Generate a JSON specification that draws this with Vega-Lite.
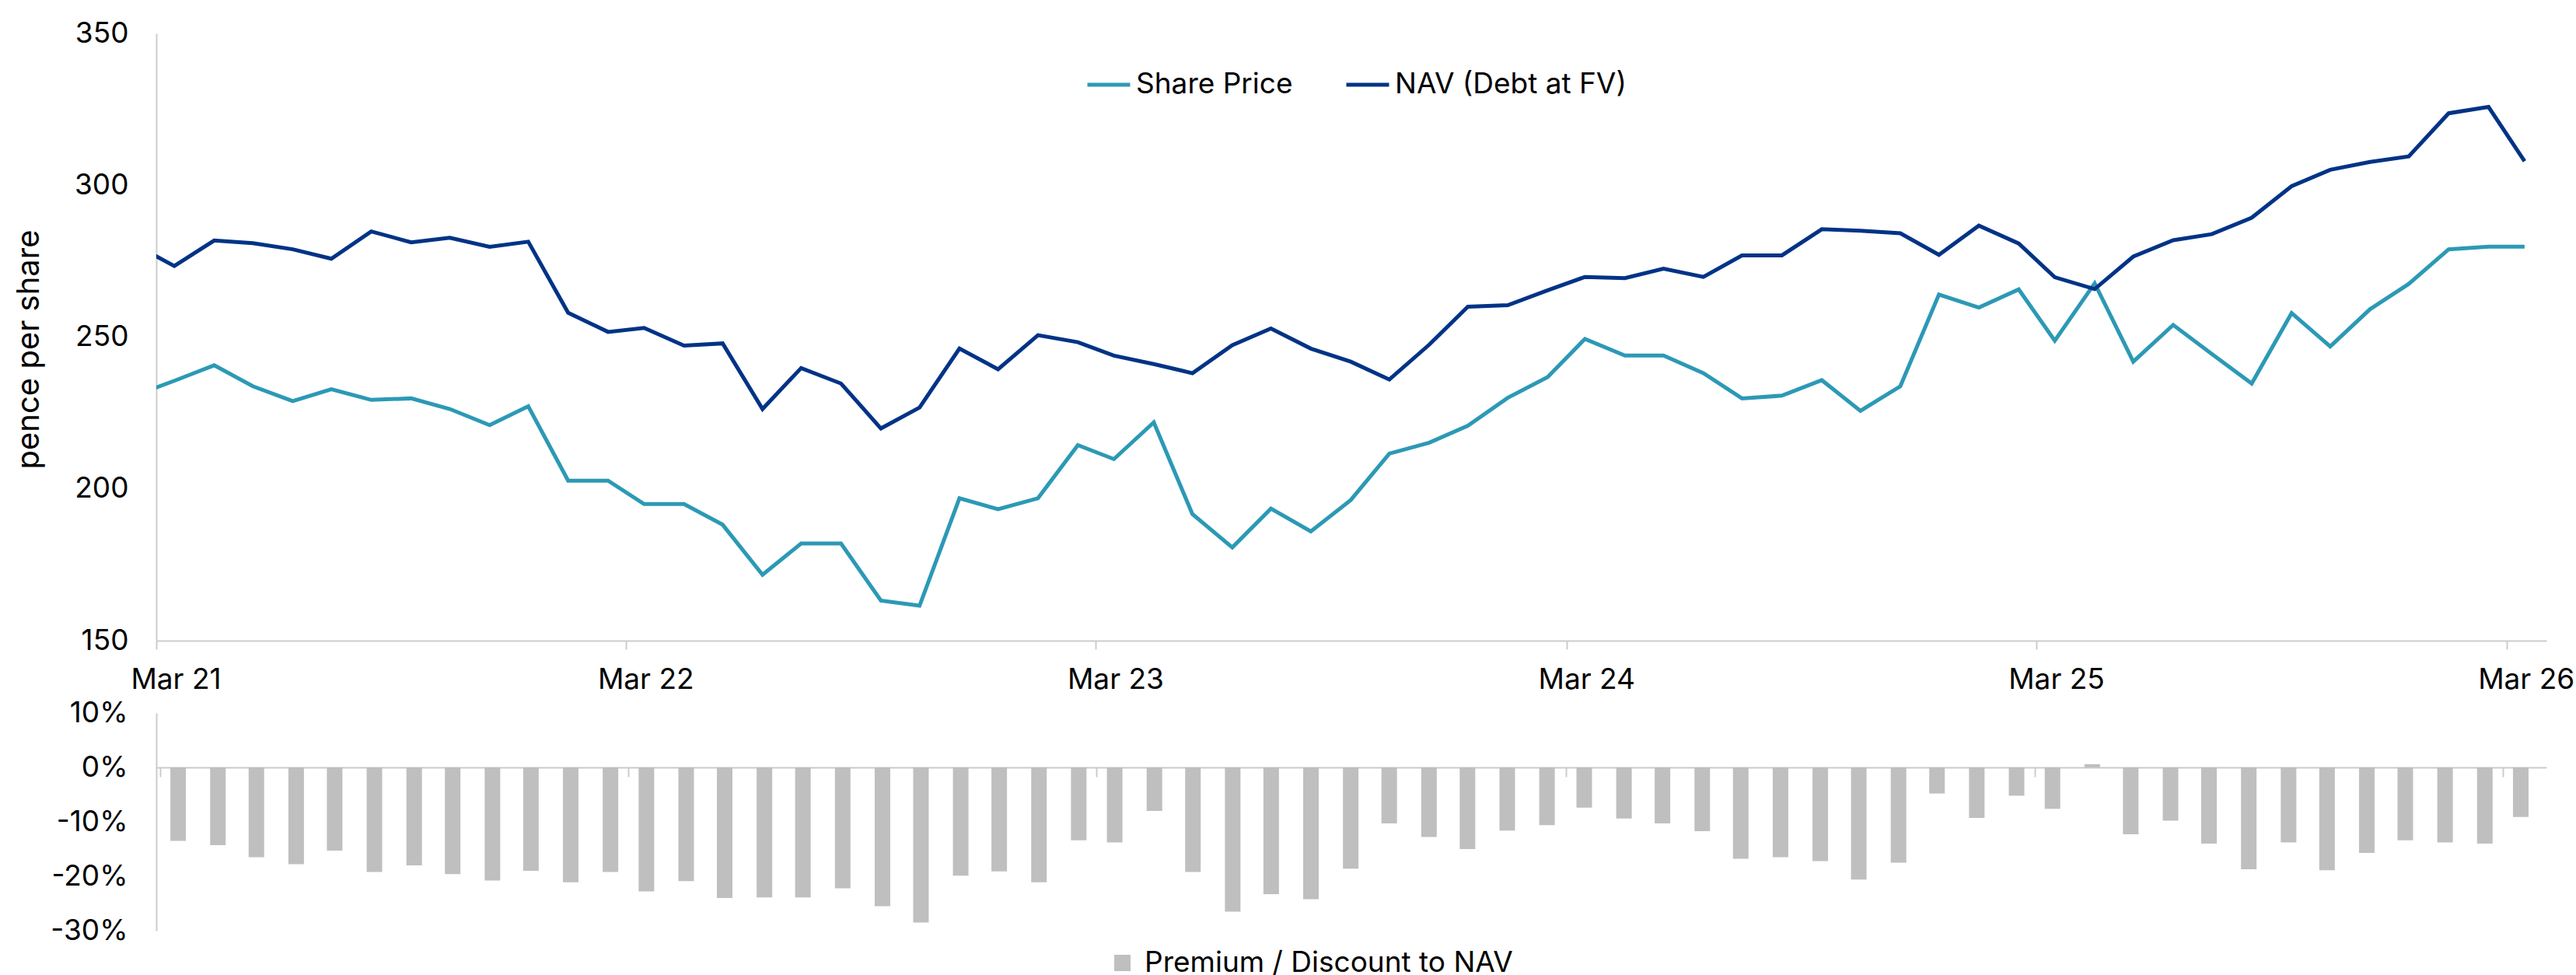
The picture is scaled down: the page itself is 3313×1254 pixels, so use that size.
{
  "$schema": "https://vega.github.io/schema/vega-lite/v6.json",
  "background": "white",
  "padding": {"left": 17, "top": 24, "right": 5, "bottom": 5},
  "spacing": 6,
  "datasets": {
    "lines": [
      {"date": "2021-02-15T00:00:00", "series": "Share Price", "value": 231.2},
      {"date": "2021-03-15T00:00:00", "series": "Share Price", "value": 235.6},
      {"date": "2021-04-15T00:00:00", "series": "Share Price", "value": 240.7},
      {"date": "2021-05-15T00:00:00", "series": "Share Price", "value": 233.8},
      {"date": "2021-06-15T00:00:00", "series": "Share Price", "value": 228.9},
      {"date": "2021-07-15T00:00:00", "series": "Share Price", "value": 232.8},
      {"date": "2021-08-15T00:00:00", "series": "Share Price", "value": 229.3},
      {"date": "2021-09-15T00:00:00", "series": "Share Price", "value": 229.8},
      {"date": "2021-10-15T00:00:00", "series": "Share Price", "value": 226.3},
      {"date": "2021-11-15T00:00:00", "series": "Share Price", "value": 221.0},
      {"date": "2021-12-15T00:00:00", "series": "Share Price", "value": 227.2},
      {"date": "2022-01-15T00:00:00", "series": "Share Price", "value": 202.7},
      {"date": "2022-02-15T00:00:00", "series": "Share Price", "value": 202.7},
      {"date": "2022-03-15T00:00:00", "series": "Share Price", "value": 195.0},
      {"date": "2022-04-15T00:00:00", "series": "Share Price", "value": 195.0},
      {"date": "2022-05-15T00:00:00", "series": "Share Price", "value": 188.2},
      {"date": "2022-06-15T00:00:00", "series": "Share Price", "value": 171.7},
      {"date": "2022-07-15T00:00:00", "series": "Share Price", "value": 182.0},
      {"date": "2022-08-15T00:00:00", "series": "Share Price", "value": 182.0},
      {"date": "2022-09-15T00:00:00", "series": "Share Price", "value": 163.2},
      {"date": "2022-10-15T00:00:00", "series": "Share Price", "value": 161.5},
      {"date": "2022-11-15T00:00:00", "series": "Share Price", "value": 196.9},
      {"date": "2022-12-15T00:00:00", "series": "Share Price", "value": 193.3},
      {"date": "2023-01-15T00:00:00", "series": "Share Price", "value": 196.9},
      {"date": "2023-02-15T00:00:00", "series": "Share Price", "value": 214.4},
      {"date": "2023-03-15T00:00:00", "series": "Share Price", "value": 209.8},
      {"date": "2023-04-15T00:00:00", "series": "Share Price", "value": 221.9},
      {"date": "2023-05-15T00:00:00", "series": "Share Price", "value": 191.7},
      {"date": "2023-06-15T00:00:00", "series": "Share Price", "value": 180.7},
      {"date": "2023-07-15T00:00:00", "series": "Share Price", "value": 193.5},
      {"date": "2023-08-15T00:00:00", "series": "Share Price", "value": 186.0},
      {"date": "2023-09-15T00:00:00", "series": "Share Price", "value": 196.3},
      {"date": "2023-10-15T00:00:00", "series": "Share Price", "value": 211.6},
      {"date": "2023-11-15T00:00:00", "series": "Share Price", "value": 215.2},
      {"date": "2023-12-15T00:00:00", "series": "Share Price", "value": 220.8},
      {"date": "2024-01-15T00:00:00", "series": "Share Price", "value": 230.0},
      {"date": "2024-02-15T00:00:00", "series": "Share Price", "value": 236.8},
      {"date": "2024-03-15T00:00:00", "series": "Share Price", "value": 249.4},
      {"date": "2024-04-15T00:00:00", "series": "Share Price", "value": 243.9},
      {"date": "2024-05-15T00:00:00", "series": "Share Price", "value": 243.9},
      {"date": "2024-06-15T00:00:00", "series": "Share Price", "value": 238.1},
      {"date": "2024-07-15T00:00:00", "series": "Share Price", "value": 229.8},
      {"date": "2024-08-15T00:00:00", "series": "Share Price", "value": 230.7},
      {"date": "2024-09-15T00:00:00", "series": "Share Price", "value": 235.8},
      {"date": "2024-10-15T00:00:00", "series": "Share Price", "value": 225.7},
      {"date": "2024-11-15T00:00:00", "series": "Share Price", "value": 233.8},
      {"date": "2024-12-15T00:00:00", "series": "Share Price", "value": 264.0},
      {"date": "2025-01-15T00:00:00", "series": "Share Price", "value": 259.7},
      {"date": "2025-02-15T00:00:00", "series": "Share Price", "value": 265.7},
      {"date": "2025-03-15T00:00:00", "series": "Share Price", "value": 248.8},
      {"date": "2025-04-15T00:00:00", "series": "Share Price", "value": 267.7},
      {"date": "2025-05-15T00:00:00", "series": "Share Price", "value": 241.9},
      {"date": "2025-06-15T00:00:00", "series": "Share Price", "value": 254.0},
      {"date": "2025-07-15T00:00:00", "series": "Share Price", "value": 244.4},
      {"date": "2025-08-15T00:00:00", "series": "Share Price", "value": 234.7},
      {"date": "2025-09-15T00:00:00", "series": "Share Price", "value": 257.9},
      {"date": "2025-10-15T00:00:00", "series": "Share Price", "value": 246.9},
      {"date": "2025-11-15T00:00:00", "series": "Share Price", "value": 259.2},
      {"date": "2025-12-15T00:00:00", "series": "Share Price", "value": 267.5},
      {"date": "2026-01-15T00:00:00", "series": "Share Price", "value": 278.9},
      {"date": "2026-02-15T00:00:00", "series": "Share Price", "value": 279.8},
      {"date": "2026-03-15T00:00:00", "series": "Share Price", "value": 279.8},
      {"date": "2021-02-15T00:00:00", "series": "NAV (Debt at FV)", "value": 279.8},
      {"date": "2021-03-15T00:00:00", "series": "NAV (Debt at FV)", "value": 273.4},
      {"date": "2021-04-15T00:00:00", "series": "NAV (Debt at FV)", "value": 281.8},
      {"date": "2021-05-15T00:00:00", "series": "NAV (Debt at FV)", "value": 280.9},
      {"date": "2021-06-15T00:00:00", "series": "NAV (Debt at FV)", "value": 278.9},
      {"date": "2021-07-15T00:00:00", "series": "NAV (Debt at FV)", "value": 275.8},
      {"date": "2021-08-15T00:00:00", "series": "NAV (Debt at FV)", "value": 284.8},
      {"date": "2021-09-15T00:00:00", "series": "NAV (Debt at FV)", "value": 281.2},
      {"date": "2021-10-15T00:00:00", "series": "NAV (Debt at FV)", "value": 282.7},
      {"date": "2021-11-15T00:00:00", "series": "NAV (Debt at FV)", "value": 279.7},
      {"date": "2021-12-15T00:00:00", "series": "NAV (Debt at FV)", "value": 281.4},
      {"date": "2022-01-15T00:00:00", "series": "NAV (Debt at FV)", "value": 258.0},
      {"date": "2022-02-15T00:00:00", "series": "NAV (Debt at FV)", "value": 251.7},
      {"date": "2022-03-15T00:00:00", "series": "NAV (Debt at FV)", "value": 253.0},
      {"date": "2022-04-15T00:00:00", "series": "NAV (Debt at FV)", "value": 247.2},
      {"date": "2022-05-15T00:00:00", "series": "NAV (Debt at FV)", "value": 247.9},
      {"date": "2022-06-15T00:00:00", "series": "NAV (Debt at FV)", "value": 226.3},
      {"date": "2022-07-15T00:00:00", "series": "NAV (Debt at FV)", "value": 239.8},
      {"date": "2022-08-15T00:00:00", "series": "NAV (Debt at FV)", "value": 234.7},
      {"date": "2022-09-15T00:00:00", "series": "NAV (Debt at FV)", "value": 219.9},
      {"date": "2022-10-15T00:00:00", "series": "NAV (Debt at FV)", "value": 226.8},
      {"date": "2022-11-15T00:00:00", "series": "NAV (Debt at FV)", "value": 246.2},
      {"date": "2022-12-15T00:00:00", "series": "NAV (Debt at FV)", "value": 239.4},
      {"date": "2023-01-15T00:00:00", "series": "NAV (Debt at FV)", "value": 250.6},
      {"date": "2023-02-15T00:00:00", "series": "NAV (Debt at FV)", "value": 248.3},
      {"date": "2023-03-15T00:00:00", "series": "NAV (Debt at FV)", "value": 243.9},
      {"date": "2023-04-15T00:00:00", "series": "NAV (Debt at FV)", "value": 241.1},
      {"date": "2023-05-15T00:00:00", "series": "NAV (Debt at FV)", "value": 238.1},
      {"date": "2023-06-15T00:00:00", "series": "NAV (Debt at FV)", "value": 247.3},
      {"date": "2023-07-15T00:00:00", "series": "NAV (Debt at FV)", "value": 252.8},
      {"date": "2023-08-15T00:00:00", "series": "NAV (Debt at FV)", "value": 246.2},
      {"date": "2023-09-15T00:00:00", "series": "NAV (Debt at FV)", "value": 241.9},
      {"date": "2023-10-15T00:00:00", "series": "NAV (Debt at FV)", "value": 236.0},
      {"date": "2023-11-15T00:00:00", "series": "NAV (Debt at FV)", "value": 247.5},
      {"date": "2023-12-15T00:00:00", "series": "NAV (Debt at FV)", "value": 260.0},
      {"date": "2024-01-15T00:00:00", "series": "NAV (Debt at FV)", "value": 260.5},
      {"date": "2024-02-15T00:00:00", "series": "NAV (Debt at FV)", "value": 265.4},
      {"date": "2024-03-15T00:00:00", "series": "NAV (Debt at FV)", "value": 269.8},
      {"date": "2024-04-15T00:00:00", "series": "NAV (Debt at FV)", "value": 269.4},
      {"date": "2024-05-15T00:00:00", "series": "NAV (Debt at FV)", "value": 272.5},
      {"date": "2024-06-15T00:00:00", "series": "NAV (Debt at FV)", "value": 269.8},
      {"date": "2024-07-15T00:00:00", "series": "NAV (Debt at FV)", "value": 276.9},
      {"date": "2024-08-15T00:00:00", "series": "NAV (Debt at FV)", "value": 276.9},
      {"date": "2024-09-15T00:00:00", "series": "NAV (Debt at FV)", "value": 285.5},
      {"date": "2024-10-15T00:00:00", "series": "NAV (Debt at FV)", "value": 285.0},
      {"date": "2024-11-15T00:00:00", "series": "NAV (Debt at FV)", "value": 284.2},
      {"date": "2024-12-15T00:00:00", "series": "NAV (Debt at FV)", "value": 277.1},
      {"date": "2025-01-15T00:00:00", "series": "NAV (Debt at FV)", "value": 286.7},
      {"date": "2025-02-15T00:00:00", "series": "NAV (Debt at FV)", "value": 280.8},
      {"date": "2025-03-15T00:00:00", "series": "NAV (Debt at FV)", "value": 269.7},
      {"date": "2025-04-15T00:00:00", "series": "NAV (Debt at FV)", "value": 265.8},
      {"date": "2025-05-15T00:00:00", "series": "NAV (Debt at FV)", "value": 276.5},
      {"date": "2025-06-15T00:00:00", "series": "NAV (Debt at FV)", "value": 281.9},
      {"date": "2025-07-15T00:00:00", "series": "NAV (Debt at FV)", "value": 283.9},
      {"date": "2025-08-15T00:00:00", "series": "NAV (Debt at FV)", "value": 289.3},
      {"date": "2025-09-15T00:00:00", "series": "NAV (Debt at FV)", "value": 299.7},
      {"date": "2025-10-15T00:00:00", "series": "NAV (Debt at FV)", "value": 305.1},
      {"date": "2025-11-15T00:00:00", "series": "NAV (Debt at FV)", "value": 307.7},
      {"date": "2025-12-15T00:00:00", "series": "NAV (Debt at FV)", "value": 309.5},
      {"date": "2026-01-15T00:00:00", "series": "NAV (Debt at FV)", "value": 323.7},
      {"date": "2026-02-15T00:00:00", "series": "NAV (Debt at FV)", "value": 325.8},
      {"date": "2026-03-15T00:00:00", "series": "NAV (Debt at FV)", "value": 307.9}
    ],
    "bars": [
      {"date": "2021-03-15T00:00:00", "premium": -13.5},
      {"date": "2021-04-15T00:00:00", "premium": -14.3},
      {"date": "2021-05-15T00:00:00", "premium": -16.5},
      {"date": "2021-06-15T00:00:00", "premium": -17.8},
      {"date": "2021-07-15T00:00:00", "premium": -15.3},
      {"date": "2021-08-15T00:00:00", "premium": -19.2},
      {"date": "2021-09-15T00:00:00", "premium": -18.0},
      {"date": "2021-10-15T00:00:00", "premium": -19.6},
      {"date": "2021-11-15T00:00:00", "premium": -20.8},
      {"date": "2021-12-15T00:00:00", "premium": -19.0},
      {"date": "2022-01-15T00:00:00", "premium": -21.1},
      {"date": "2022-02-15T00:00:00", "premium": -19.2},
      {"date": "2022-03-15T00:00:00", "premium": -22.8},
      {"date": "2022-04-15T00:00:00", "premium": -20.9},
      {"date": "2022-05-15T00:00:00", "premium": -24.0},
      {"date": "2022-06-15T00:00:00", "premium": -23.9},
      {"date": "2022-07-15T00:00:00", "premium": -23.9},
      {"date": "2022-08-15T00:00:00", "premium": -22.2},
      {"date": "2022-09-15T00:00:00", "premium": -25.5},
      {"date": "2022-10-15T00:00:00", "premium": -28.5},
      {"date": "2022-11-15T00:00:00", "premium": -19.9},
      {"date": "2022-12-15T00:00:00", "premium": -19.1},
      {"date": "2023-01-15T00:00:00", "premium": -21.1},
      {"date": "2023-02-15T00:00:00", "premium": -13.4},
      {"date": "2023-03-15T00:00:00", "premium": -13.8},
      {"date": "2023-04-15T00:00:00", "premium": -8.0},
      {"date": "2023-05-15T00:00:00", "premium": -19.2},
      {"date": "2023-06-15T00:00:00", "premium": -26.5},
      {"date": "2023-07-15T00:00:00", "premium": -23.3},
      {"date": "2023-08-15T00:00:00", "premium": -24.2},
      {"date": "2023-09-15T00:00:00", "premium": -18.6},
      {"date": "2023-10-15T00:00:00", "premium": -10.3},
      {"date": "2023-11-15T00:00:00", "premium": -12.8},
      {"date": "2023-12-15T00:00:00", "premium": -15.0},
      {"date": "2024-01-15T00:00:00", "premium": -11.6},
      {"date": "2024-02-15T00:00:00", "premium": -10.6},
      {"date": "2024-03-15T00:00:00", "premium": -7.4},
      {"date": "2024-04-15T00:00:00", "premium": -9.4},
      {"date": "2024-05-15T00:00:00", "premium": -10.3},
      {"date": "2024-06-15T00:00:00", "premium": -11.7},
      {"date": "2024-07-15T00:00:00", "premium": -16.8},
      {"date": "2024-08-15T00:00:00", "premium": -16.5},
      {"date": "2024-09-15T00:00:00", "premium": -17.2},
      {"date": "2024-10-15T00:00:00", "premium": -20.6},
      {"date": "2024-11-15T00:00:00", "premium": -17.5},
      {"date": "2024-12-15T00:00:00", "premium": -4.8},
      {"date": "2025-01-15T00:00:00", "premium": -9.3},
      {"date": "2025-02-15T00:00:00", "premium": -5.2},
      {"date": "2025-03-15T00:00:00", "premium": -7.6},
      {"date": "2025-04-15T00:00:00", "premium": 0.6},
      {"date": "2025-05-15T00:00:00", "premium": -12.3},
      {"date": "2025-06-15T00:00:00", "premium": -9.8},
      {"date": "2025-07-15T00:00:00", "premium": -14.0},
      {"date": "2025-08-15T00:00:00", "premium": -18.7},
      {"date": "2025-09-15T00:00:00", "premium": -13.8},
      {"date": "2025-10-15T00:00:00", "premium": -18.9},
      {"date": "2025-11-15T00:00:00", "premium": -15.7},
      {"date": "2025-12-15T00:00:00", "premium": -13.4},
      {"date": "2026-01-15T00:00:00", "premium": -13.8},
      {"date": "2026-02-15T00:00:00", "premium": -14.0},
      {"date": "2026-03-15T00:00:00", "premium": -9.1}
    ]
  },
  "vconcat": [
    {
      "width": 3074,
      "height": 781,
      "data": {"name": "lines"},
      "mark": {"type": "line", "strokeWidth": 5, "clip": true},
      "encoding": {
        "x": {
          "field": "date", "type": "temporal",
          "scale": {"domain": [{"year": 2021, "month": 3, "date": 1}, {"year": 2026, "month": 4, "date": 1}]},
          "axis": {
            "title": null,
            "values": [
              {"year": 2021, "month": 3, "date": 1},
              {"year": 2022, "month": 3, "date": 1},
              {"year": 2023, "month": 3, "date": 1},
              {"year": 2024, "month": 3, "date": 1},
              {"year": 2025, "month": 3, "date": 1},
              {"year": 2026, "month": 3, "date": 1}
            ],
            "format": "%b %y",
            "labelOffset": 25,
            "labelFlush": false,
            "labelOverlap": false,
            "labelBound": false,
            "tickSize": 11,
            "labelPadding": 21,
            "grid": false
          }
        },
        "y": {
          "field": "value", "type": "quantitative",
          "scale": {"domain": [150, 350], "nice": false, "zero": false},
          "axis": {
            "title": "pence per share",
            "values": [150, 200, 250, 300, 350],
            "ticks": false,
            "tickSize": 0,
            "labelPadding": 36,
            "grid": false,
            "titleX": -144,
            "titleY": 406,
            "titleAngle": -90,
            "titleBaseline": "bottom",
            "titleAlign": "center",
            "titleFontSize": 40
          }
        },
        "color": {
          "field": "series", "type": "nominal",
          "scale": {"domain": ["Share Price", "NAV (Debt at FV)"], "range": ["#2C99B5", "#003386"]},
          "legend": {
            "orient": "none",
            "legendX": 1195,
            "legendY": 36,
            "direction": "horizontal",
            "title": null,
            "symbolType": "stroke",
            "symbolSize": 3025,
            "symbolStrokeWidth": 5,
            "labelOffset": 5,
            "columnPadding": 58,
            "padding": 0
          }
        }
      }
    },
    {
      "width": 3074,
      "height": 280,
      "data": {"name": "bars"},
      "mark": {"type": "bar", "size": 20},
      "encoding": {
        "x": {
          "field": "date", "type": "temporal",
          "scale": {"domain": [{"year": 2021, "month": 3, "date": 1}, {"year": 2026, "month": 4, "date": 1}]},
          "axis": {
            "title": null,
            "values": [
              {"year": 2021, "month": 3, "date": 1},
              {"year": 2022, "month": 3, "date": 1},
              {"year": 2023, "month": 3, "date": 1},
              {"year": 2024, "month": 3, "date": 1},
              {"year": 2025, "month": 3, "date": 1},
              {"year": 2026, "month": 3, "date": 1}
            ],
            "labels": false,
            "tickSize": 12,
            "offset": -210,
            "grid": false
          }
        },
        "y": {
          "field": "premium", "type": "quantitative",
          "scale": {"domain": [-30, 10], "nice": false},
          "axis": {
            "title": null,
            "values": [-30, -20, -10, 0, 10],
            "labelExpr": "datum.value + '%'",
            "ticks": false,
            "tickSize": 0,
            "labelPadding": 37,
            "grid": false
          }
        },
        "color": {
          "datum": "Premium / Discount to NAV",
          "type": "nominal",
          "scale": {"range": ["#BFBFBF"]},
          "legend": {
            "orient": "none",
            "legendX": 1224,
            "legendY": 303,
            "title": null,
            "symbolType": "square",
            "symbolSize": 440,
            "labelOffset": 10,
            "padding": 0
          }
        }
      }
    }
  ],
  "resolve": {"scale": {"color": "independent", "x": "independent", "y": "independent"}, "legend": {"color": "independent"}},
  "config": {
    "font": "Inter",
    "view": {"stroke": null},
    "axis": {
      "labelFont": "Inter",
      "labelFontSize": 37,
      "labelColor": "#000000",
      "titleFont": "Inter",
      "titleFontSize": 37,
      "titleFontWeight": "normal",
      "titleColor": "#000000",
      "domainColor": "#CCCCCC",
      "domainWidth": 2,
      "tickColor": "#CCCCCC",
      "tickWidth": 2
    },
    "legend": {
      "labelFont": "Inter",
      "labelFontSize": 37,
      "labelColor": "#000000",
      "labelLimit": 1000
    }
  }
}
